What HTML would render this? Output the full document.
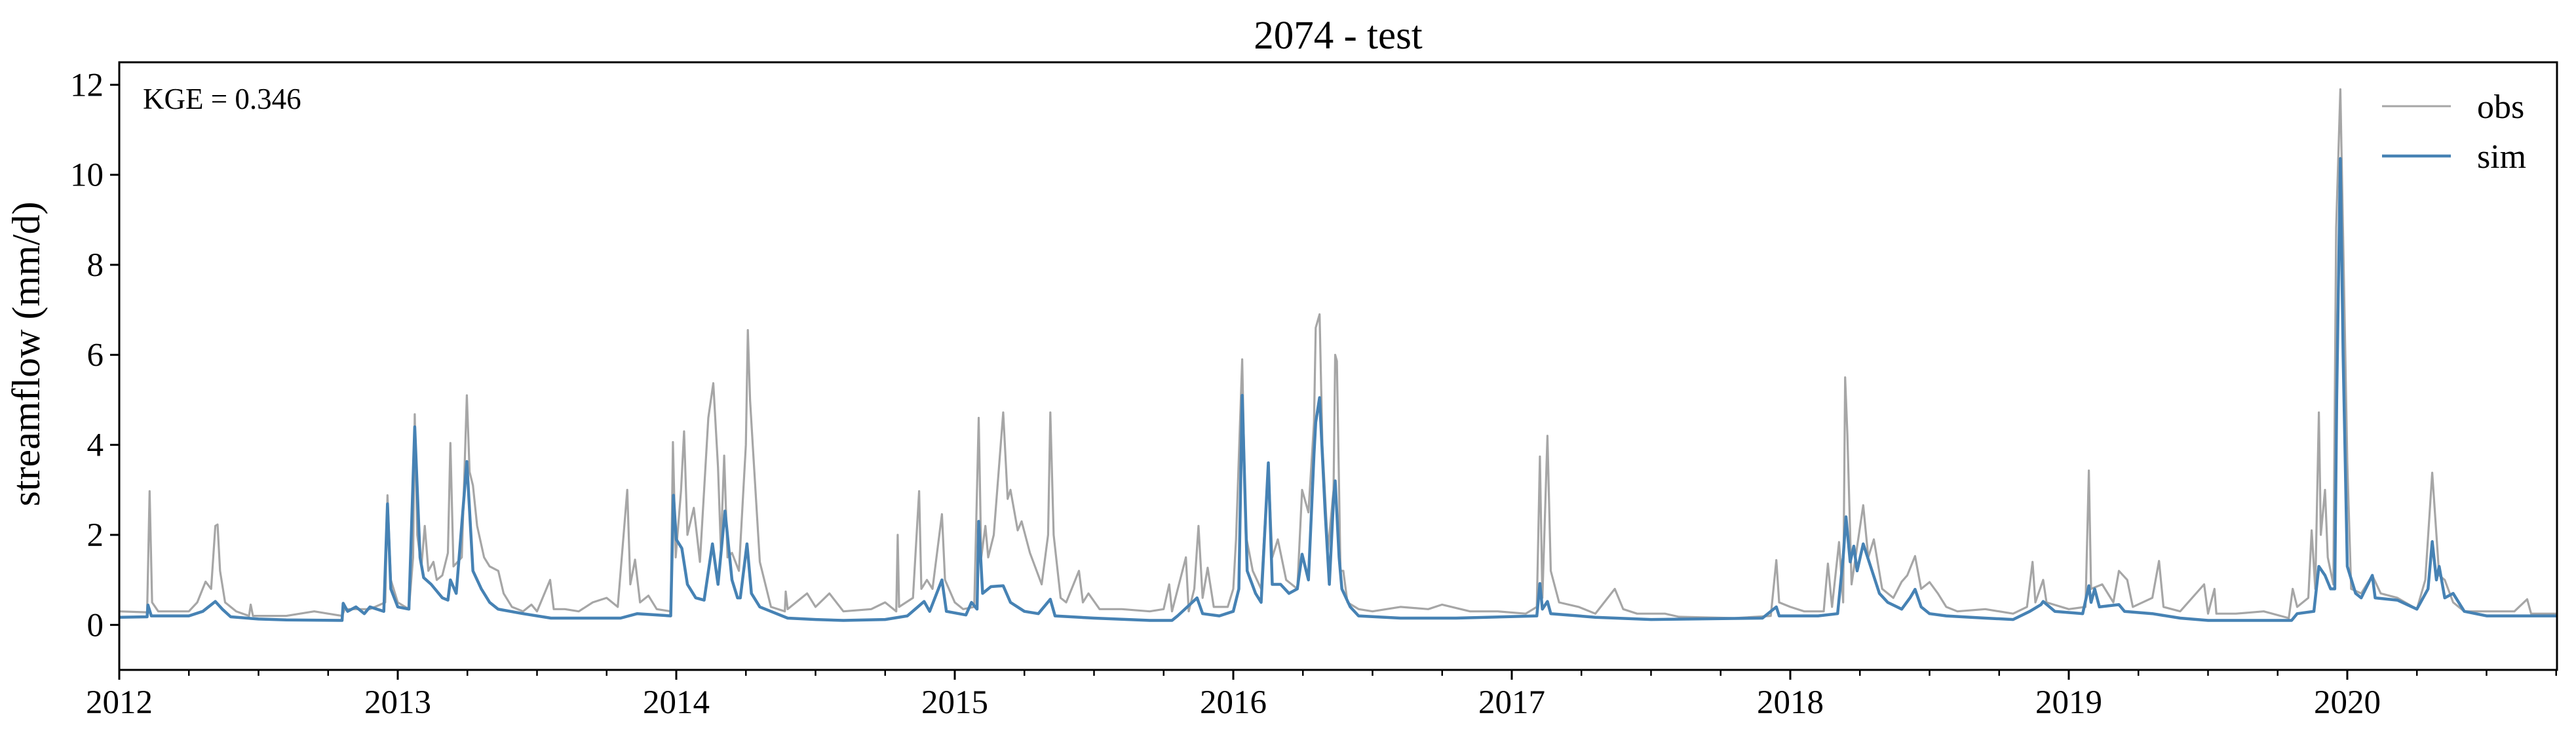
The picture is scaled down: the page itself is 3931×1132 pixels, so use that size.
<!DOCTYPE html>
<html><head><meta charset="utf-8"><style>
html,body{margin:0;padding:0;background:#fff;}
svg{display:block;font-family:"Liberation Serif",serif;}
</style></head><body>
<svg id="chart" width="3931" height="1132" viewBox="0 0 3931 1132">
<text x="2042" y="74" text-anchor="middle" font-size="61">2074 - test</text>
<text transform="translate(60,540) rotate(-90)" text-anchor="middle" font-size="60">streamflow (mm/d)</text>
<g id="plot"></g>
<rect x="182" y="95" width="3720" height="927" fill="none" stroke="#000" stroke-width="3"/>
<text x="218" y="166" font-size="45">KGE = 0.346</text>
<g>
<line x1="3635" y1="162" x2="3740" y2="162" stroke="#a6a6a6" stroke-width="3"/>
<text x="3780" y="180" font-size="52">obs</text>
<line x1="3635" y1="238" x2="3740" y2="238" stroke="#4682b4" stroke-width="4.5"/>
<text x="3780" y="256" font-size="52">sim</text>
</g>
</svg>
<script>
// years since 2012-01-01
const obsT=[0,0.1,0.109,0.118,0.14,0.25,0.28,0.31,0.33,0.345,0.353,0.362,0.38,0.42,0.466,0.472,0.48,0.5,0.6,0.7,0.75,0.8,0.81,0.9,0.955,0.963,0.975,1.0,1.04,1.055,1.061,1.07,1.085,1.097,1.11,1.128,1.14,1.16,1.18,1.189,1.2,1.23,1.248,1.258,1.27,1.285,1.31,1.33,1.361,1.38,1.41,1.45,1.48,1.5,1.547,1.56,1.6,1.65,1.7,1.75,1.79,1.824,1.835,1.852,1.87,1.9,1.93,1.98,1.988,1.998,2.017,2.028,2.04,2.063,2.085,2.115,2.133,2.15,2.16,2.172,2.184,2.2,2.225,2.25,2.257,2.265,2.276,2.3,2.34,2.39,2.393,2.4,2.47,2.5,2.55,2.6,2.7,2.75,2.79,2.795,2.8,2.85,2.872,2.88,2.9,2.92,2.954,2.965,3.0,3.03,3.07,3.086,3.095,3.11,3.12,3.14,3.174,3.19,3.2,3.226,3.24,3.27,3.312,3.335,3.343,3.355,3.38,3.4,3.446,3.46,3.48,3.52,3.6,3.7,3.75,3.77,3.78,3.83,3.84,3.86,3.875,3.89,3.908,3.93,3.98,4.0,4.01,4.032,4.045,4.07,4.1,4.126,4.14,4.16,4.19,4.23,4.247,4.27,4.29,4.296,4.31,4.32,4.34,4.36,4.366,4.372,4.385,4.395,4.41,4.45,4.5,4.6,4.7,4.75,4.85,4.95,5.05,5.09,5.101,5.11,5.128,5.14,5.17,5.24,5.3,5.37,5.4,5.45,5.55,5.6,5.8,5.93,5.95,5.96,6.0,6.05,6.12,6.135,6.15,6.175,6.19,6.197,6.205,6.22,6.262,6.28,6.3,6.33,6.37,6.4,6.42,6.448,6.47,6.5,6.53,6.56,6.6,6.7,6.8,6.85,6.87,6.88,6.908,6.92,7.0,7.06,7.072,7.08,7.12,7.16,7.18,7.21,7.23,7.3,7.324,7.34,7.4,7.486,7.5,7.523,7.53,7.6,7.7,7.79,7.804,7.82,7.86,7.872,7.885,7.898,7.905,7.92,7.93,7.95,7.96,7.975,7.99,8.0,8.014,8.05,8.09,8.12,8.18,8.25,8.28,8.305,8.33,8.35,8.38,8.42,8.6,8.646,8.66,8.753];
const obsV=[0.3,0.28,2.97,0.5,0.3,0.3,0.5,0.96,0.8,2.2,2.23,1.2,0.5,0.3,0.2,0.45,0.2,0.2,0.2,0.3,0.25,0.2,0.35,0.35,0.5,2.88,1.0,0.5,0.35,1.5,4.68,2.0,1.3,2.2,1.2,1.4,1.0,1.1,1.6,4.04,1.3,1.5,5.1,3.4,3.1,2.2,1.5,1.3,1.2,0.7,0.4,0.3,0.45,0.3,1.0,0.35,0.35,0.3,0.5,0.6,0.4,3.0,0.9,1.45,0.5,0.65,0.35,0.3,4.06,1.5,2.97,4.3,2.0,2.6,1.4,4.6,5.37,3.5,1.7,3.76,1.5,1.6,1.2,4.0,6.55,5.0,3.85,1.4,0.4,0.3,0.74,0.35,0.7,0.4,0.7,0.3,0.35,0.5,0.3,2.0,0.4,0.6,2.97,0.8,1.0,0.8,2.46,1.0,0.5,0.35,0.4,4.6,1.5,2.2,1.5,2.0,4.72,2.8,3.0,2.1,2.3,1.6,0.9,2.0,4.72,2.0,0.6,0.5,1.2,0.5,0.7,0.35,0.35,0.3,0.35,0.9,0.3,1.5,0.3,0.8,2.2,0.6,1.27,0.4,0.4,0.8,1.9,5.9,2.0,1.2,0.8,3.6,1.5,1.9,1.0,0.8,3.0,2.5,4.5,6.6,6.9,4.0,1.66,3.0,6.0,5.86,1.2,1.2,0.5,0.35,0.3,0.4,0.35,0.45,0.3,0.3,0.25,0.4,3.74,0.6,4.2,1.2,0.5,0.4,0.25,0.8,0.35,0.25,0.25,0.18,0.15,0.2,1.44,0.5,0.4,0.3,0.3,1.36,0.4,1.84,0.5,5.5,4.24,0.9,2.66,1.5,1.9,0.8,0.6,0.96,1.1,1.53,0.8,0.95,0.7,0.4,0.3,0.35,0.25,0.4,1.4,0.5,1.0,0.5,0.35,0.4,3.43,0.8,0.9,0.5,1.2,1.0,0.4,0.6,1.42,0.4,0.3,0.9,0.25,0.8,0.25,0.25,0.3,0.15,0.8,0.4,0.6,2.1,0.8,4.72,2.0,3.0,1.5,0.9,8.83,11.9,7.0,3.6,0.8,0.7,1.1,0.7,0.6,0.35,1.0,3.38,1.1,1.0,0.5,0.3,0.3,0.57,0.25,0.25];
const simT=[0,0.1,0.103,0.115,0.25,0.3,0.345,0.37,0.4,0.5,0.6,0.8,0.804,0.82,0.85,0.88,0.9,0.95,0.963,0.975,1.0,1.04,1.061,1.08,1.093,1.12,1.16,1.18,1.189,1.21,1.248,1.27,1.3,1.33,1.36,1.45,1.55,1.7,1.8,1.86,1.98,1.99,2.0,2.02,2.04,2.07,2.1,2.13,2.15,2.175,2.2,2.22,2.23,2.254,2.27,2.3,2.4,2.5,2.6,2.75,2.83,2.89,2.91,2.954,2.97,3.04,3.06,3.08,3.086,3.1,3.13,3.174,3.2,3.25,3.3,3.343,3.36,3.5,3.7,3.78,3.8,3.87,3.89,3.95,4.0,4.02,4.032,4.05,4.08,4.1,4.126,4.14,4.17,4.2,4.23,4.247,4.27,4.29,4.296,4.31,4.33,4.345,4.36,4.366,4.38,4.39,4.42,4.45,4.6,4.8,5.09,5.101,5.11,5.128,5.14,5.3,5.5,5.9,5.95,5.96,6.1,6.17,6.19,6.2,6.215,6.228,6.24,6.262,6.29,6.32,6.35,6.4,6.43,6.448,6.47,6.5,6.56,6.7,6.8,6.86,6.9,6.908,6.95,7.05,7.072,7.08,7.093,7.11,7.18,7.2,7.3,7.4,7.5,7.8,7.82,7.88,7.898,7.92,7.94,7.955,7.962,7.975,7.985,8.0,8.03,8.05,8.09,8.1,8.18,8.25,8.29,8.305,8.32,8.33,8.35,8.38,8.42,8.5,8.753];
const simV=[0.17,0.18,0.44,0.2,0.2,0.3,0.52,0.35,0.18,0.13,0.11,0.1,0.48,0.3,0.4,0.25,0.4,0.3,2.69,0.8,0.4,0.35,4.4,1.5,1.05,0.9,0.6,0.55,1.0,0.7,3.63,1.2,0.8,0.5,0.35,0.25,0.15,0.15,0.15,0.25,0.2,2.88,1.9,1.7,0.9,0.6,0.55,1.8,0.9,2.53,1.0,0.6,0.6,1.8,0.7,0.4,0.15,0.12,0.1,0.12,0.2,0.52,0.3,1.0,0.3,0.22,0.5,0.35,2.3,0.7,0.85,0.87,0.5,0.3,0.25,0.57,0.2,0.15,0.1,0.1,0.2,0.6,0.25,0.2,0.3,0.8,5.1,1.2,0.7,0.5,3.6,0.9,0.9,0.7,0.8,1.57,1.0,3.8,4.5,5.05,2.5,0.9,2.8,3.2,1.5,0.8,0.4,0.2,0.15,0.15,0.2,0.92,0.35,0.52,0.25,0.17,0.12,0.15,0.4,0.2,0.2,0.25,1.5,2.4,1.4,1.75,1.2,1.8,1.27,0.7,0.5,0.35,0.6,0.79,0.4,0.25,0.2,0.15,0.12,0.3,0.45,0.52,0.3,0.25,0.87,0.5,0.8,0.4,0.45,0.3,0.25,0.15,0.1,0.1,0.25,0.3,1.3,1.1,0.8,0.8,5.0,10.36,6.0,1.3,0.7,0.6,1.1,0.6,0.55,0.35,0.8,1.85,1.0,1.3,0.6,0.7,0.3,0.2,0.2];
const yearLabels=["2012","2013","2014","2015","2016","2017","2018","2019","2020"];
const yTickValues=[0,2,4,6,8,10,12];

const NS="http://www.w3.org/2000/svg";
const X0=182,X1=3902,Y0=95,Y1=1022,TMAX=8.753,VMIN=-1,VMAX=12.5;
function xs(t){return X0+(t/TMAX)*(X1-X0);}
function ys(v){return Y1-(v-VMIN)/(VMAX-VMIN)*(Y1-Y0);}
const svg=document.getElementById('chart');
const plot=document.getElementById('plot');
function mk(tag,attrs,parent){const e=document.createElementNS(NS,tag);for(const k in attrs)e.setAttribute(k,attrs[k]);(parent||svg).appendChild(e);return e;}
function series(T,V,color,w,name){
  let d='';for(let i=0;i<T.length;i++)d+=(i?'L':'M')+xs(T[i]).toFixed(1)+','+ys(V[i]).toFixed(1);
  const p=mk('path',{d:d,fill:'none',stroke:color,'stroke-width':w,'stroke-linejoin':'round'},plot);
  
  
}
series(obsT,obsV,'#a6a6a6',3.2,'obs-line');
series(simT,simV,'#4682b4',4.5,'sim-line');
yTickValues.forEach(v=>{
  const y=ys(v);
  const l=mk('line',{x1:X0-14,x2:X0,y1:y,y2:y,stroke:'#000','stroke-width':3});
  
  
  const t=mk('text',{x:X0-24,y:y+17,'text-anchor':'end','font-size':51});
  t.textContent=String(v);
  
  
});
yearLabels.forEach((lab,i)=>{
  const x=xs(i);
  const l=mk('line',{x1:x,x2:x,y1:Y1,y2:Y1+15,stroke:'#000','stroke-width':3});
  
  
  const t=mk('text',{x:x,y:Y1+66,'text-anchor':'middle','font-size':51});
  t.textContent=lab;
  
  
  for(let q=1;q<4;q++){const tq=i+q/4;if(tq>TMAX)break;
    const m=mk('line',{x1:xs(tq),x2:xs(tq),y1:Y1,y2:Y1+9,stroke:'#000','stroke-width':2.5});
    
    
  }
});
</script>
</body></html>
